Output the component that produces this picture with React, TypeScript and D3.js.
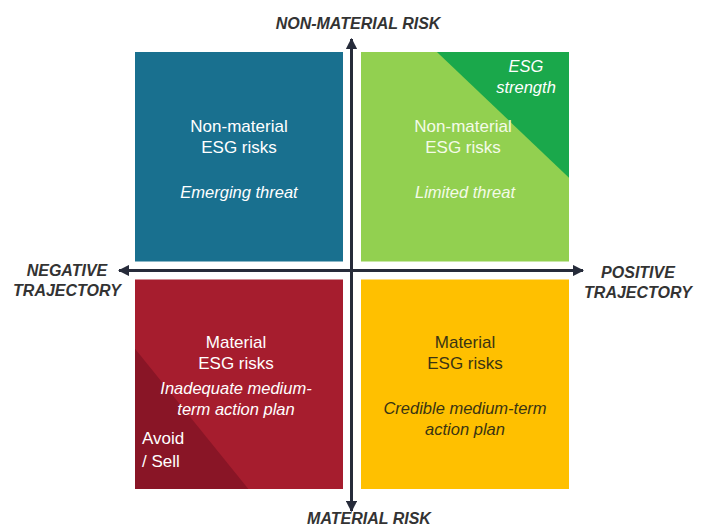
import React from "react";
import * as d3 from "d3";

// Quadrant content (x: trajectory -1 negative / +1 positive, y: +1 non-material / -1 material)
const quadrantIds = ["nw", "ne", "sw", "se"];
const quadrantX = [-1, 1, -1, 1];
const quadrantY = [1, 1, -1, -1];
const quadrantTitles = [
  ["Non-material", "ESG risks"],
  ["Non-material", "ESG risks"],
  ["Material", "ESG risks"],
  ["Material", "ESG risks"],
];
const quadrantSubtitles = [
  ["Emerging threat"],
  ["Limited threat"],
  ["Inadequate medium-", "term action plan"],
  ["Credible medium-term", "action plan"],
];
const cornerLabels = [[], ["ESG", "strength"], ["Avoid", "/ Sell"], []];
const axisLabels = {
  top: ["NON-MATERIAL RISK"],
  bottom: ["MATERIAL RISK"],
  left: ["NEGATIVE", "TRAJECTORY"],
  right: ["POSITIVE", "TRAJECTORY"],
};

const W = 705;
const H = 527;

export default function App() {
  const x = d3.scaleLinear().domain([-1, 1]).range([135, 569]);
  const y = d3.scaleLinear().domain([-1, 1]).range([489, 52]);
  const gap = 9;
  const cx = x(0);
  const cy = y(0);

  const fills: Record<string, string> = {
    nw: "#19708f",
    ne: "#92d050",
    sw: "#a61d2e",
    se: "#ffc000",
  };
  const textFill: Record<string, string> = {
    nw: "#ffffff",
    ne: "#f4fbe8",
    sw: "#ffffff",
    se: "#3a3413",
  };

  const boxes = quadrantIds.map((id, i) => {
    const x0 = quadrantX[i] < 0 ? x(-1) : cx + gap;
    const x1 = quadrantX[i] < 0 ? cx - gap : x(1);
    const y0 = quadrantY[i] > 0 ? y(1) : cy + gap;
    const y1 = quadrantY[i] > 0 ? cy - gap : y(-1);
    return { id, i, x0, x1, y0, y1 };
  });

  const font = "'Liberation Sans', Arial, sans-serif";
  const axisColor = "#262b3a";
  const labelColor = "#333333";

  const line = d3.line();

  return (
    <svg
      width={W}
      height={H}
      style={{ position: "absolute", left: 0, top: 0, background: "#ffffff" }}
      fontFamily={font}
    >
      <defs>
        <marker id="ah" viewBox="0 0 10 10" refX="9" refY="5" markerWidth="3.8" markerHeight="3.8" orient="auto">
          <path d="M0,0 L10,5 L0,10 z" fill={axisColor} />
        </marker>
      </defs>

      {boxes.map((b) => {
        const w = b.x1 - b.x0;
        const h = b.y1 - b.y0;
        const mid = (b.x0 + b.x1) / 2;
        let tri: [number, number][] | null = null;
        let triFill = "";
        if (b.id === "ne") {
          tri = [
            [b.x0 + w * 0.365, b.y0],
            [b.x1, b.y0],
            [b.x1, b.y0 + h * 0.6],
          ];
          triFill = "#1aa84b";
        }
        if (b.id === "sw") {
          tri = [
            [b.x0, b.y0 + h * 0.33],
            [b.x0, b.y1],
            [b.x0 + w * 0.545, b.y1],
          ];
          triFill = "#891526";
        }
        const tf = textFill[b.id];
        const titles = quadrantTitles[b.i];
        const subs = quadrantSubtitles[b.i];
        const top = b.id === "nw" || b.id === "ne";
        const titleStart = top ? b.y0 + 80 : b.y0 + 68;
        const subStart = top ? b.y0 + 146 : b.id === "sw" ? b.y0 + 114 : b.y0 + 134;
        return (
          <g key={b.id}>
            <rect x={b.x0} y={b.y0} width={w} height={h} fill={fills[b.id]} />
            {tri && <path d={line(tri) + "Z"} fill={triFill} />}
            {titles.map((t, k) => (
              <text key={"t" + k} x={mid + (b.id === "ne" ? -2 : b.id === "sw" ? -3 : 0)} y={titleStart + k * 21} textAnchor="middle" fontSize={17} fill={tf}>
                {t}
              </text>
            ))}
            {subs.map((t, k) => (
              <text key={"s" + k} x={mid + (b.id === "sw" ? -3 : 0)} y={subStart + k * 21} textAnchor="middle" fontSize={16.5} fontStyle="italic" fill={tf}>
                {t}
              </text>
            ))}
            {b.id === "ne" &&
              cornerLabels[b.i].map((t, k) => (
                <text key={"c" + k} x={b.x1 - 43} y={b.y0 + 20 + k * 21} textAnchor="middle" fontSize={16.5} fontStyle="italic" fill="#ffffff">
                  {t}
                </text>
              ))}
            {b.id === "sw" &&
              cornerLabels[b.i].map((t, k) => (
                <text key={"c" + k} x={b.x0 + 7} y={b.y0 + 164 + k * 23} textAnchor="start" fontSize={17} fill="#ffffff">
                  {t}
                </text>
              ))}
          </g>
        );
      })}

      {/* axes */}
      <line x1={cx - 0.5} y1={y(-1) + 14} x2={cx - 0.5} y2={y(1) - 13} stroke={axisColor} strokeWidth={3} markerEnd="url(#ah)" />
      <line x1={cx - 0.5} y1={y(1) - 8} x2={cx - 0.5} y2={y(-1) + 22} stroke={axisColor} strokeWidth={3} markerEnd="url(#ah)" />
      <line x1={x(1) + 10} y1={cy} x2={x(-1) - 16} y2={cy} stroke={axisColor} strokeWidth={3} markerEnd="url(#ah)" />
      <line x1={x(-1) - 14} y1={cy} x2={x(1) + 14} y2={cy} stroke={axisColor} strokeWidth={3} markerEnd="url(#ah)" />

      {/* axis labels */}
      <text x={cx + 6} y={29} textAnchor="middle" fontSize={16} fontWeight="bold" fontStyle="italic" fill={labelColor}>
        {axisLabels.top[0]}
      </text>
      <text x={cx + 17} y={524} textAnchor="middle" fontSize={16} fontWeight="bold" fontStyle="italic" fill={labelColor}>
        {axisLabels.bottom[0]}
      </text>
      {axisLabels.left.map((t, k) => (
        <text key={"l" + k} x={67} y={276 + k * 20} textAnchor="middle" fontSize={16} fontWeight="bold" fontStyle="italic" fill={labelColor}>
          {t}
        </text>
      ))}
      {axisLabels.right.map((t, k) => (
        <text key={"r" + k} x={638} y={278 + k * 20} textAnchor="middle" fontSize={16} fontWeight="bold" fontStyle="italic" fill={labelColor}>
          {t}
        </text>
      ))}
    </svg>
  );
}
